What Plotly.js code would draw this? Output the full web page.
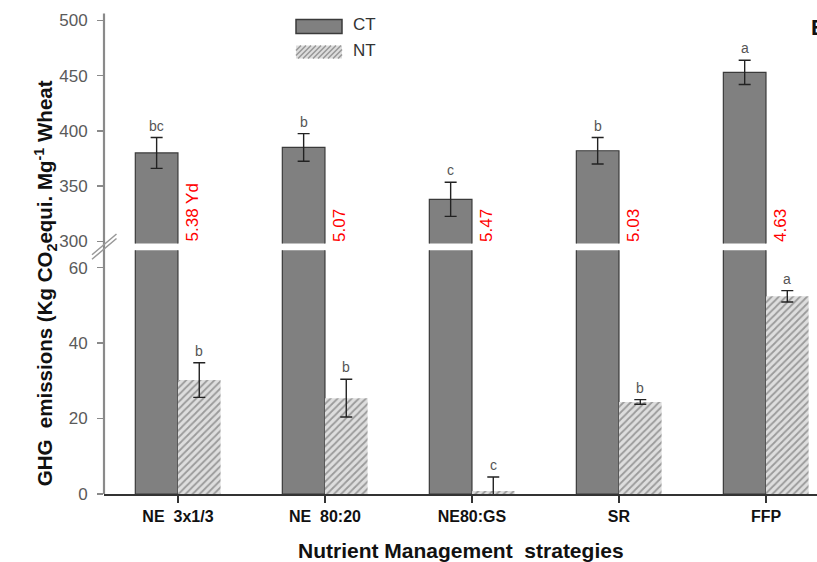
<!DOCTYPE html>
<html>
<head>
<meta charset="utf-8">
<script src="https://cdn.plot.ly/plotly-3.0.1.min.js"></script>
<style>html,body{margin:0;padding:0;background:#fff;}#chart{width:817px;height:562px;}</style>
</head>
<body>
<div id="chart"></div>
<script>
// ---- data ----
const categories = ['NE  3x1/3', 'NE  80:20', 'NE80:GS', 'SR', 'FFP'];
const ctValues = [380, 385, 338, 382, 453];
const ctErrors = [14, 12.5, 15.5, 12, 11];
const ntValues = [30.2, 25.4, 0.8, 24.4, 52.4];
const ntErrors = [4.6, 5, 3.7, 0.6, 1.5];
const ctLetters = ['bc', 'b', 'c', 'b', 'a'];
const ntLetters = ['b', 'b', 'c', 'b', 'a'];
const yieldLabels = ['5.38 Yd', '5.07', '5.47', '5.03', '4.63'];
const lowerTicks = [0, 20, 40, 60];
const upperTicks = [300, 350, 400, 450, 500];

// ---- geometry helpers (layout) ----
const W = 817, H = 562, L = 104, R = 0, T = 14.5, B = 68;
const PW = W - L - R, PH = H - T - B;
const px = x => (x - L) / PW;
const py = y => (H - B - y) / PH;

const BW = 0.29;
const ctColor = '#808080', ctLine = '#3a3a3a';
const pattern = {shape: '/', fgcolor: '#9a9a9a', bgcolor: '#dedede', size: 5, solidity: 0.35};
const errStyle = {color: '#222', thickness: 1.4, width: 6};
const ARIAL = 'Arial, Liberation Sans, sans-serif';

const traces = [
  {type: 'bar', x: categories, y: ctValues, xaxis: 'x', yaxis: 'y', width: BW, offset: -BW,
   marker: {color: ctColor, line: {color: ctLine, width: 1.2}}, hoverinfo: 'skip', showlegend: false},
  {type: 'bar', x: categories, y: ntValues, xaxis: 'x', yaxis: 'y', width: BW, offset: 0,
   marker: {color: '#dedede', pattern: pattern, line: {width: 0}},
   error_y: Object.assign({type: 'data', array: ntErrors, visible: true}, errStyle), showlegend: false},
  {type: 'bar', x: categories, y: ctValues, xaxis: 'x', yaxis: 'y2', width: BW, offset: -BW,
   marker: {color: ctColor, line: {color: ctLine, width: 1.2}},
   error_y: Object.assign({type: 'data', array: ctErrors, visible: true}, errStyle), showlegend: false}
];

const annotations = [];
categories.forEach((c, i) => {
  annotations.push({x: c, xref: 'x', y: ctValues[i] + ctErrors[i], yref: 'y2', xshift: -BW * 147 / 2,
    text: ctLetters[i], showarrow: false, yanchor: 'bottom', xanchor: 'center', yshift: 2,
    font: {family: ARIAL, size: 14, color: '#555'}});
  annotations.push({x: c, xref: 'x', y: ntValues[i] + ntErrors[i], yref: 'y', xshift: BW * 147 / 2,
    text: ntLetters[i], showarrow: false, yanchor: 'bottom', xanchor: 'center', yshift: 2,
    font: {family: ARIAL, size: 14, color: '#555'}});
  annotations.push({x: c, xref: 'x', y: 298, yref: 'y2', xshift: 15,
    text: yieldLabels[i], showarrow: false, textangle: -90, yanchor: 'bottom', xanchor: 'center',
    font: {family: ARIAL, size: 17, color: '#ff0000'}});
});
// axis titles
annotations.push({xref: 'paper', yref: 'paper', x: px(45), y: py(283), xanchor: 'center', yanchor: 'middle',
  showarrow: false, textangle: -90,
  text: 'GHG  emissions (Kg CO<sub>2</sub>equi. Mg<sup>-1</sup> Wheat',
  font: {family: ARIAL, size: 20.5, color: '#111', weight: 'bold'}});
annotations.push({xref: 'paper', yref: 'paper', x: px(461), y: py(551), xanchor: 'center', yanchor: 'middle',
  showarrow: false, text: 'Nutrient Management  strategies',
  font: {family: 'Liberation Sans Narrow, Arial Narrow, Arial', size: 21, color: '#111', weight: 'bold'}});
annotations.push({xref: 'paper', yref: 'paper', x: px(809), y: py(27), xanchor: 'left', yanchor: 'middle',
  showarrow: false, text: 'B', font: {family: ARIAL, size: 22, color: '#111', weight: 'bold'}});
// legend texts
annotations.push({xref: 'paper', yref: 'paper', x: px(351), y: py(24), xanchor: 'left', yanchor: 'middle',
  showarrow: false, text: 'CT', font: {family: ARIAL, size: 17, color: '#333'}});
annotations.push({xref: 'paper', yref: 'paper', x: px(351), y: py(50), xanchor: 'left', yanchor: 'middle',
  showarrow: false, text: 'NT', font: {family: ARIAL, size: 17, color: '#333'}});
// axis break marks (drawn as arrow lines without heads)
[0, 4.5].forEach(d => {
  annotations.push({xref: 'paper', yref: 'paper', x: px(92), y: py(259 - d), axref: 'pixel', ayref: 'pixel',
    ax: 26, ay: -22, text: '', showarrow: true, arrowhead: 0, arrowwidth: 1.5, arrowcolor: '#999',
    standoff: 0, startstandoff: 0});
});

const shapes = [];
// continuous y axis line
shapes.push({type: 'line', xref: 'paper', yref: 'paper', x0: 0, x1: 0, y0: 0, y1: py(13),
  line: {color: '#8a8a8a', width: 2.2}});
// legend CT box
shapes.push({type: 'rect', xref: 'paper', yref: 'paper', x0: px(296), x1: px(342), y0: py(33), y1: py(19),
  fillcolor: ctColor, line: {color: ctLine, width: 1.5}});
// legend NT hatched box
shapes.push({type: 'rect', xref: 'paper', yref: 'paper', x0: px(296), x1: px(342), y0: py(58), y1: py(45),
  fillcolor: '#dedede', line: {width: 0}});
(function () {
  const x0 = 296, x1 = 342, yT = 45, yB = 58, h = yB - yT;
  let d = '';
  for (let k = -h; k < x1 - x0; k += 5) {
    let ax = x0 + k, ay = yB, bx = x0 + k + h, by = yT;
    if (ax < x0) { ay = yB - (x0 - ax); ax = x0; }
    if (bx > x1) { by = yT + (bx - x1); bx = x1; }
    d += 'M' + px(ax) + ',' + py(ay) + 'L' + px(bx) + ',' + py(by);
  }
  shapes.push({type: 'path', xref: 'paper', yref: 'paper', path: d, line: {color: '#9a9a9a', width: 1.6}});
})();

const yTickFont = {family: ARIAL, size: 17, color: '#5a5a5a'};
const layout = {
  width: W, height: H,
  margin: {l: L, r: R, t: T, b: B, pad: 0},
  paper_bgcolor: '#fff', plot_bgcolor: '#fff',
  barmode: 'overlay',
  showlegend: false,
  xaxis: {type: 'category', range: [-0.503, 4.347], showgrid: false, zeroline: false,
    showline: true, linecolor: '#333', linewidth: 1.5, ticks: 'outside', ticklen: 7, tickcolor: '#333', tickwidth: 1.5,
    tickfont: {family: 'Liberation Sans Narrow, Arial Narrow, Arial', size: 16, color: '#111', weight: 'bold'},
    anchor: 'y'},
  yaxis: {domain: [0, (494 - 250) / PH], range: [0, 64.6], tickvals: lowerTicks, showgrid: false, zeroline: false,
    showline: false, ticks: 'outside', ticklen: 6, tickcolor: '#8a8a8a', tickwidth: 1.3,
    ticklabelstandoff: 6, tickfont: yTickFont},
  yaxis2: {domain: [(494 - 243.2) / PH, 1], range: [298, 505], tickvals: upperTicks, showgrid: false, zeroline: false,
    showline: false, ticks: 'outside', ticklen: 6, tickcolor: '#8a8a8a', tickwidth: 1.3,
    ticklabelstandoff: 6, tickfont: yTickFont, anchor: 'x'},
  annotations: annotations,
  shapes: shapes
};

Plotly.newPlot('chart', traces, layout, {displayModeBar: false, staticPlot: true});
</script>
</body>
</html>
